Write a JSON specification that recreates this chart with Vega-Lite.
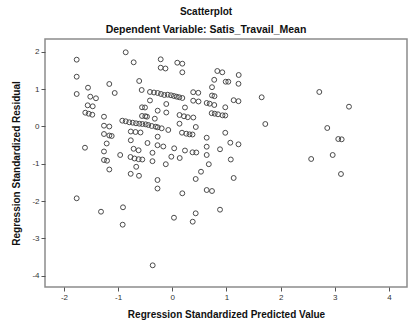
{
  "$schema": "https://vega.github.io/schema/vega-lite/v6.json",
  "width": 362,
  "height": 248,
  "autosize": {"type": "none"},
  "padding": {"left": 45, "top": 39, "right": 2, "bottom": 35},
  "background": "white",
  "config": {
    "view": {"stroke": "#8c8c8c", "strokeWidth": 1.5},
    "font": "Liberation Sans"
  },
  "title": {
    "text": "Scatterplot",
    "subtitle": "Dependent Variable: Satis_Travail_Mean",
    "font": "Liberation Sans",
    "fontSize": 10,
    "fontWeight": "bold",
    "color": "#111",
    "subtitleFont": "Liberation Sans",
    "subtitleFontSize": 10.5,
    "subtitleFontWeight": "bold",
    "subtitleColor": "#111",
    "subtitlePadding": 8,
    "offset": 4,
    "anchor": "middle",
    "dx": -20
  },
  "data": {
    "values": [
      {"x": -1.765, "y": 1.787}, {"x": -1.765, "y": 1.331}, {"x": -1.765, "y": 0.868}, {"x": -1.765, "y": -1.926},
      {"x": -1.556, "y": 1.037}, {"x": -1.514, "y": 0.796}, {"x": -1.409, "y": 0.753},
      {"x": -1.562, "y": 0.565}, {"x": -1.469, "y": 0.538},
      {"x": -1.606, "y": 0.367}, {"x": -1.543, "y": 0.340}, {"x": -1.477, "y": 0.313},
      {"x": -1.612, "y": -0.571}, {"x": -1.316, "y": -2.285},
      {"x": -1.163, "y": 1.136}, {"x": -1.063, "y": 0.895}, {"x": -1.261, "y": 0.260},
      {"x": -1.261, "y": 0.019}, {"x": -1.163, "y": -0.003},
      {"x": -1.261, "y": -0.204}, {"x": -1.163, "y": -0.244}, {"x": -1.119, "y": -0.257},
      {"x": -1.211, "y": -0.458}, {"x": -1.261, "y": -0.672},
      {"x": -1.261, "y": -0.900}, {"x": -1.205, "y": -0.919},
      {"x": -1.163, "y": -1.155}, {"x": -0.962, "y": -0.766},
      {"x": -0.910, "y": -2.167}, {"x": -0.916, "y": -2.633},
      {"x": -0.860, "y": 1.985}, {"x": -0.713, "y": 1.717}, {"x": -0.214, "y": 1.797}, {"x": -0.214, "y": 1.572}, {"x": -0.126, "y": 1.551},
      {"x": -0.611, "y": 1.216}, {"x": -0.565, "y": 0.975},
      {"x": -0.412, "y": 0.922}, {"x": -0.338, "y": 0.908}, {"x": -0.270, "y": 0.895}, {"x": -0.209, "y": 0.868}, {"x": -0.148, "y": 0.841},
      {"x": -0.085, "y": 0.849}, {"x": -0.024, "y": 0.833}, {"x": 0.031, "y": 0.814}, {"x": 0.081, "y": 0.796}, {"x": 0.129, "y": 0.780}, {"x": 0.185, "y": 0.761},
      {"x": -0.412, "y": 0.694}, {"x": -0.111, "y": 0.600},
      {"x": -0.559, "y": 0.512}, {"x": -0.504, "y": 0.506},
      {"x": -0.270, "y": 0.421}, {"x": -0.111, "y": 0.372},
      {"x": -0.559, "y": 0.279}, {"x": -0.498, "y": 0.273}, {"x": -0.467, "y": 0.260},
      {"x": -0.323, "y": 0.206},
      {"x": -0.923, "y": 0.153}, {"x": -0.860, "y": 0.137}, {"x": -0.794, "y": 0.110}, {"x": -0.731, "y": 0.099}, {"x": -0.670, "y": 0.083},
      {"x": -0.609, "y": 0.072}, {"x": -0.554, "y": 0.064}, {"x": -0.491, "y": 0.056}, {"x": -0.443, "y": 0.038}, {"x": -0.380, "y": 0.011},
      {"x": -0.306, "y": -0.008}, {"x": -0.270, "y": -0.024}, {"x": -0.196, "y": -0.051},
      {"x": -0.074, "y": -0.096},
      {"x": -0.766, "y": -0.137}, {"x": -0.679, "y": -0.150}, {"x": -0.587, "y": -0.163},
      {"x": -0.270, "y": -0.276}, {"x": -0.766, "y": -0.372}, {"x": -0.458, "y": -0.445},
      {"x": -0.273, "y": -0.504}, {"x": -0.166, "y": -0.538},
      {"x": -0.714, "y": -0.600}, {"x": -0.622, "y": -0.640}, {"x": -0.366, "y": -0.707},
      {"x": -0.772, "y": -0.820}, {"x": -0.698, "y": -0.860}, {"x": -0.622, "y": -0.879}, {"x": -0.554, "y": -0.887},
      {"x": -0.366, "y": -0.932}, {"x": -0.120, "y": -1.013}, {"x": -0.666, "y": -1.082},
      {"x": -0.768, "y": -1.270}, {"x": -0.615, "y": -1.323},
      {"x": -0.273, "y": -1.436}, {"x": -0.273, "y": -1.664}, {"x": -0.362, "y": -3.721},
      {"x": 0.092, "y": 1.706}, {"x": 0.185, "y": 1.680}, {"x": 0.185, "y": 1.449},
      {"x": 0.831, "y": 1.484}, {"x": 0.923, "y": 1.449}, {"x": 1.226, "y": 1.377},
      {"x": 0.774, "y": 1.248}, {"x": 0.986, "y": 1.197}, {"x": 1.034, "y": 1.197}, {"x": 1.222, "y": 1.141},
      {"x": 0.733, "y": 1.050}, {"x": 0.386, "y": 0.916}, {"x": 0.480, "y": 0.900},
      {"x": 0.733, "y": 0.828}, {"x": 0.779, "y": 0.809},
      {"x": 0.386, "y": 0.688}, {"x": 0.484, "y": 0.667},
      {"x": 0.635, "y": 0.627}, {"x": 0.690, "y": 0.608}, {"x": 0.775, "y": 0.573},
      {"x": 1.133, "y": 0.702}, {"x": 1.222, "y": 0.675},
      {"x": 0.234, "y": 0.506}, {"x": 0.978, "y": 0.512},
      {"x": 0.133, "y": 0.305}, {"x": 0.216, "y": 0.271}, {"x": 0.286, "y": 0.246}, {"x": 0.388, "y": 0.238},
      {"x": 0.727, "y": 0.354}, {"x": 0.783, "y": 0.340}, {"x": 0.844, "y": 0.324}, {"x": 0.927, "y": 0.297}, {"x": 0.978, "y": 0.292},
      {"x": 0.133, "y": 0.072}, {"x": 0.434, "y": -0.016},
      {"x": 0.179, "y": -0.169}, {"x": 0.258, "y": -0.196}, {"x": 0.318, "y": -0.212}, {"x": 0.373, "y": -0.217},
      {"x": 0.978, "y": -0.171}, {"x": 0.635, "y": -0.303},
      {"x": 1.071, "y": -0.437}, {"x": 1.222, "y": -0.480},
      {"x": 0.635, "y": -0.544}, {"x": 0.035, "y": -0.587}, {"x": 0.234, "y": -0.646},
      {"x": 0.373, "y": -0.694}, {"x": 0.443, "y": -0.699}, {"x": 0.881, "y": -0.613},
      {"x": 0.635, "y": -0.766}, {"x": -0.018, "y": -0.812}, {"x": 0.137, "y": -0.847},
      {"x": 1.080, "y": -0.887}, {"x": 0.674, "y": -1.013}, {"x": 0.530, "y": -1.214},
      {"x": 0.432, "y": -1.409}, {"x": 1.133, "y": -1.382}, {"x": 0.185, "y": -1.792},
      {"x": 0.635, "y": -1.704}, {"x": 0.733, "y": -1.731},
      {"x": 0.881, "y": -2.231}, {"x": 0.432, "y": -2.328}, {"x": 0.031, "y": -2.446}, {"x": 0.377, "y": -2.553},
      {"x": 1.650, "y": 0.780}, {"x": 1.717, "y": 0.064},
      {"x": 2.714, "y": 0.922}, {"x": 3.262, "y": 0.528}, {"x": 2.861, "y": -0.043},
      {"x": 3.064, "y": -0.338}, {"x": 3.127, "y": -0.346},
      {"x": 2.564, "y": -0.873}, {"x": 2.961, "y": -0.766}, {"x": 3.114, "y": -1.275}
    ]
  },
  "mark": {"type": "point", "shape": "circle", "filled": false, "size": 24, "stroke": "#4a4a4a", "strokeWidth": 1, "opacity": 1},
  "encoding": {
    "x": {
      "field": "x", "type": "quantitative",
      "scale": {"domain": [-2.35, 4.333], "nice": false, "zero": false},
      "axis": {
        "title": "Regression Standardized Predicted Value",
        "values": [-2, -1, 0, 1, 2, 3, 4],
        "labelExpr": "replace(datum.label, '−', '-')",
        "grid": false, "domain": false,
        "tickColor": "#555", "tickSize": 4,
        "labelFont": "Liberation Sans", "labelFontSize": 8, "labelColor": "#333", "labelPadding": 2,
        "titleFont": "Liberation Sans", "titleFontSize": 10, "titleFontWeight": "bold", "titleColor": "#111", "titlePadding": 8
      }
    },
    "y": {
      "field": "y", "type": "quantitative",
      "scale": {"domain": [-4.302, 2.341], "nice": false, "zero": false},
      "axis": {
        "title": "Regression Standardized Residual",
        "values": [-4, -3, -2, -1, 0, 1, 2],
        "labelExpr": "replace(datum.label, '−', '-')",
        "grid": false, "domain": false,
        "tickColor": "#555", "tickSize": 4,
        "labelFont": "Liberation Sans", "labelFontSize": 8, "labelColor": "#333", "labelPadding": 2,
        "titleFont": "Liberation Sans", "titleFontSize": 10, "titleFontWeight": "bold", "titleColor": "#111", "titlePadding": 10
      }
    }
  }
}
